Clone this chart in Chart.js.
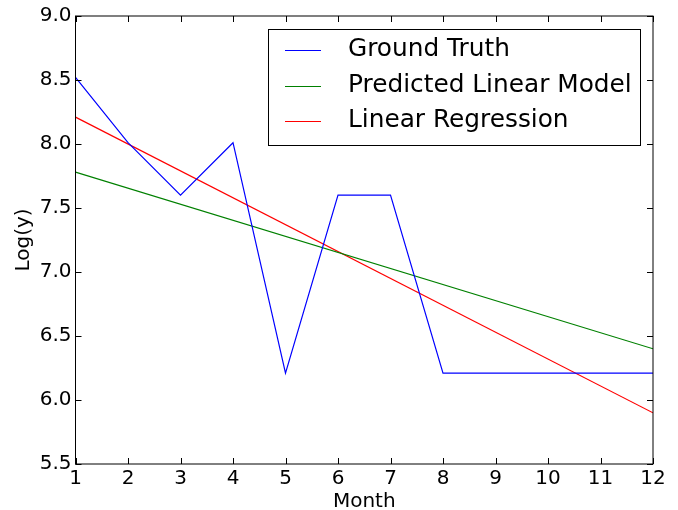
<!DOCTYPE html>
<html>
<head>
<meta charset="utf-8">
<script src="https://cdn.jsdelivr.net/npm/chart.js@4.4.1/dist/chart.umd.min.js"></script>
<style>
  html, body { margin: 0; padding: 0; background: #fff; }
  #wrap { width: 678px; height: 510px; }
</style>
</head>
<body>
<div id="wrap"><canvas id="chart" width="678" height="510"></canvas></div>
<script>
const months = [1, 2, 3, 4, 5, 6, 7, 8, 9, 10, 11, 12];
const groundTruth = [8.52, 8.01, 7.60, 8.01, 6.21, 7.60, 7.60, 6.21, 6.21, 6.21, 6.21, 6.21];
const predictedEnds = [{ x: 1, y: 7.78 }, { x: 12, y: 6.40 }];
const regressionEnds = [{ x: 1, y: 8.21 }, { x: 12, y: 5.90 }];
const seriesNames = ['Ground Truth', 'Predicted Linear Model', 'Linear Regression'];
const seriesColors = ['#0000ff', '#008000', '#ff0000'];

const FONT = 'DejaVu Sans';

// matplotlib-like frame with inward ticks on all four sides
const frameTicks = {
  id: 'frameTicks',
  afterDraw(chart) {
    const { ctx, chartArea: a, scales } = chart;
    ctx.save();
    ctx.strokeStyle = '#000';
    ctx.lineWidth = 1;
    const len = 6;
    ctx.beginPath();
    scales.x.ticks.forEach((t) => {
      const px = Math.round(scales.x.getPixelForValue(t.value)) + 0.5;
      ctx.moveTo(px, a.bottom); ctx.lineTo(px, a.bottom - len);
      ctx.moveTo(px, a.top); ctx.lineTo(px, a.top + len);
    });
    scales.y.ticks.forEach((t) => {
      const py = Math.round(scales.y.getPixelForValue(t.value)) + 0.5;
      ctx.moveTo(a.left, py); ctx.lineTo(a.left + len, py);
      ctx.moveTo(a.right, py); ctx.lineTo(a.right - len, py);
    });
    ctx.stroke();
    ctx.strokeRect(a.left, a.top, a.right - a.left, a.bottom - a.top);
    ctx.restore();
  },
};

// legend box drawn inside the axes, upper right
const innerLegend = {
  id: 'innerLegend',
  afterDraw(chart) {
    const { ctx } = chart;
    const box = { x: 268.5, y: 29.5, w: 372, h: 116 };
    ctx.save();
    ctx.fillStyle = '#fff';
    ctx.fillRect(box.x, box.y, box.w, box.h);
    ctx.strokeStyle = '#000';
    ctx.lineWidth = 1;
    ctx.strokeRect(box.x, box.y, box.w, box.h);
    ctx.font = `24.8px "${FONT}"`;
    ctx.textBaseline = 'middle';
    chart.data.datasets.forEach((ds, i) => {
      const y = 50 + i * 35.5;
      ctx.strokeStyle = ds.borderColor;
      ctx.lineWidth = 1.2;
      ctx.beginPath();
      ctx.moveTo(285, Math.round(y) + 0.5);
      ctx.lineTo(321, Math.round(y) + 0.5);
      ctx.stroke();
      ctx.fillStyle = '#000';
      ctx.fillText(ds.label, 348, y);
    });
    ctx.restore();
  },
};

new Chart(document.getElementById('chart'), {
  type: 'line',
  data: {
    datasets: [
      {
        label: seriesNames[0],
        data: months.map((m, i) => ({ x: m, y: groundTruth[i] })),
        borderColor: seriesColors[0],
      },
      {
        label: seriesNames[1],
        data: predictedEnds,
        borderColor: seriesColors[1],
      },
      {
        label: seriesNames[2],
        data: regressionEnds,
        borderColor: seriesColors[2],
      },
    ],
  },
  options: {
    responsive: false,
    animation: false,
    devicePixelRatio: 1,
    layout: { padding: { top: 16, right: 25, left: 0, bottom: 0 } },
    elements: {
      line: { borderWidth: 1.2, tension: 0 },
      point: { radius: 0 },
    },
    plugins: {
      legend: { display: false },
      tooltip: { enabled: false },
    },
    scales: {
      x: {
        type: 'linear',
        min: 1,
        max: 12,
        afterFit: (s) => { s.height = 46; },
        grid: { display: false, drawTicks: false },
        border: { display: false },
        ticks: {
          stepSize: 1,
          padding: 3,
          color: '#000',
          font: { family: FONT, size: 20 },
          maxRotation: 0,
        },
        title: {
          display: true,
          text: 'Month',
          color: '#000',
          font: { family: FONT, size: 20 },
          padding: { top: 0, bottom: -4 },
        },
      },
      y: {
        min: 5.5,
        max: 9.0,
        afterFit: (s) => { s.width = 75.5; },
        grid: { display: false, drawTicks: false },
        border: { display: false },
        ticks: {
          stepSize: 0.5,
          padding: 4,
          color: '#000',
          font: { family: FONT, size: 20 },
          callback: (v) => v.toFixed(1),
        },
        title: {
          display: true,
          text: 'Log(y)',
          color: '#000',
          font: { family: FONT, size: 20 },
          padding: { top: 12, bottom: 4 },
        },
      },
    },
  },
  plugins: [frameTicks, innerLegend],
});
</script>
</body>
</html>
